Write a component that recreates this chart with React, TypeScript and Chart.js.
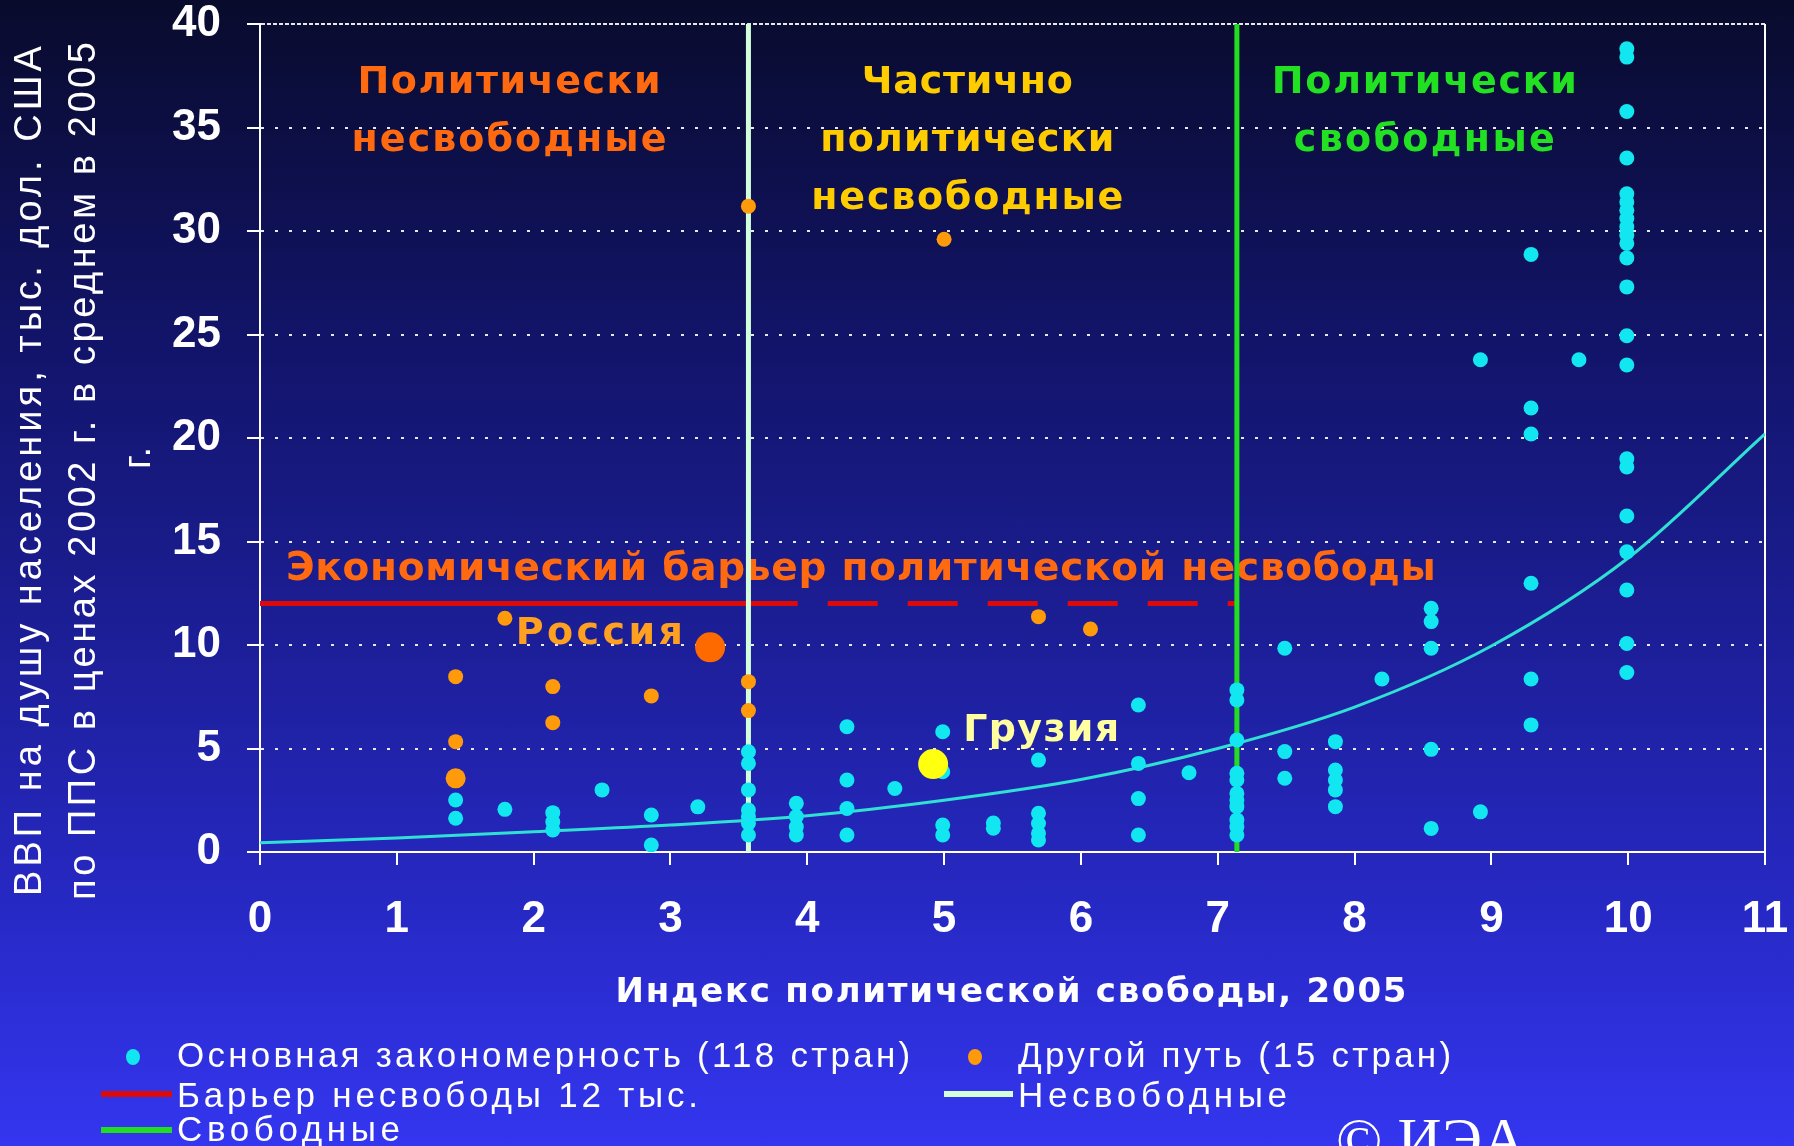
import React, { useEffect, useRef } from 'react';
import { Chart, registerables } from 'chart.js';

Chart.register(...registerables);

// ---------------- DATA ----------------
// Основная закономерность (118 стран): [индекс свободы, ВВП на душу]
const mainPoints: [number, number][] = [
  [1.43, 2.51], [1.43, 1.63],
  [1.79, 2.06],
  [2.14, 1.9], [2.14, 1.46], [2.14, 1.06],
  [2.5, 3.0],
  [2.86, 1.79], [2.86, 0.34],
  [3.2, 2.18],
  [3.57, 4.84], [3.57, 4.28], [3.57, 3.0], [3.57, 2.03], [3.57, 1.7], [3.57, 1.39], [3.57, 0.82],
  [3.92, 2.35], [3.92, 1.71], [3.92, 1.22], [3.92, 0.82],
  [4.29, 6.05], [4.29, 3.48], [4.29, 2.1], [4.29, 0.82],
  [4.64, 3.07],
  [4.99, 5.81], [4.99, 3.88], [4.99, 1.3], [4.99, 0.82],
  [5.36, 1.4], [5.36, 1.15],
  [5.69, 4.44], [5.69, 1.87], [5.69, 1.38], [5.69, 0.9], [5.69, 0.58],
  [6.42, 7.1], [6.42, 4.28], [6.42, 2.58], [6.42, 0.82],
  [6.79, 3.83],
  [7.14, 7.83], [7.14, 7.34], [7.14, 5.41], [7.14, 3.8], [7.14, 3.48], [7.14, 2.83], [7.14, 2.51],
  [7.14, 2.19], [7.14, 1.55], [7.14, 1.22], [7.14, 0.82],
  [7.49, 9.84], [7.49, 4.85], [7.49, 3.56],
  [7.86, 5.33], [7.86, 3.96], [7.86, 3.48], [7.86, 3.0], [7.86, 2.19],
  [8.2, 8.36],
  [8.56, 11.77], [8.56, 11.13], [8.56, 9.84], [8.56, 4.96], [8.56, 1.14],
  [8.92, 23.78], [8.92, 1.94],
  [9.29, 28.87], [9.29, 21.45], [9.29, 20.19], [9.29, 12.98], [9.29, 8.36], [9.29, 6.14],
  [9.64, 23.78],
  [9.99, 38.8], [9.99, 38.4], [9.99, 35.77], [9.99, 33.53], [9.99, 31.8], [9.99, 31.4], [9.99, 31.0],
  [9.99, 30.6], [9.99, 30.2], [9.99, 29.8], [9.99, 29.4], [9.99, 28.7], [9.99, 27.3], [9.99, 24.94],
  [9.99, 23.53], [9.99, 19.0], [9.99, 18.6], [9.99, 16.23], [9.99, 14.5], [9.99, 12.66], [9.99, 10.07],
  [9.99, 8.67],
];

// Другой путь (15 стран)
const otherPoints: [number, number][] = [
  [1.43, 8.47], [1.43, 5.33], [1.79, 11.29], [2.14, 7.99], [2.14, 6.25], [2.86, 7.54],
  [3.57, 8.23], [3.57, 6.83], [3.57, 31.2], [5.0, 29.6], [5.69, 11.37], [6.07, 10.77],
];
const otherLargePoints: [number, number][] = [[1.43, 3.56]];
const russiaPoint: [number, number][] = [[3.29, 9.89]];
const georgiaPoint: [number, number][] = [[4.92, 4.25]];

// Кривая несвободных
const curveX = [0, 1, 2, 3, 4, 5, 6, 7, 8, 9, 10, 11];
const curveY = [0.45, 0.68, 0.98, 1.3, 1.75, 2.5, 3.5, 5.0, 7.0, 9.95, 14.2, 20.2];

const unfreeBorderX = 3.57;
const freeBorderX = 7.14;
const barrierValue = 12;
const barrierX = [0, 3.93, 7.14];

const xRange = [0, 11];
const yRange = [0, 40];

// Texts
const regionTitleLines = [
  ['Политически', 'несвободные'],
  ['Частично', 'политически', 'несвободные'],
  ['Политически', 'свободные'],
];
const barrierTitle = 'Экономический барьер политической несвободы';
const russiaLabel = 'Россия';
const georgiaLabel = 'Грузия';
const xTitle = 'Индекс политической свободы, 2005';
const yTitleLines = ['ВВП на душу населения, тыс. дол. США', 'по ППС в ценах 2002 г. в среднем в 2005', 'г.'];
const legendMain = 'Основная закономерность (118 стран)';
const legendOther = 'Другой путь (15 стран)';
const legendBarrier = 'Барьер несвободы 12 тыс.';
const legendUnfree = 'Несвободные';
const legendFree = 'Свободные';
const copyright = '© ИЭА';

// ---------------- STYLE ----------------
const CYAN = '#12E6F0';
const ORANGE = '#FF9A0A';
const RUSSIA = '#FF6A00';
const GEORGIA = '#FFFF10';
const TURQ = '#30E0D4';
const PALE = '#D4FFDC';
const GREEN = '#22DD22';
const RED = '#DD0A0A';

const SANS = "'DejaVu Sans', 'Noto Sans', sans-serif";
const ARIAL = "'Liberation Sans', Arial, sans-serif";
const NARROW = "'Liberation Sans Narrow', 'Liberation Sans', Arial, sans-serif";

function fitText(
  ctx: CanvasRenderingContext2D,
  text: string,
  x: number,
  y: number,
  width: number,
  font: string,
  color: string,
  align: 'left' | 'center'
) {
  ctx.save();
  ctx.font = font;
  (ctx as any).letterSpacing = '0px';
  const natural = ctx.measureText(text).width;
  const n = Array.from(text).length;
  const ls = n > 1 ? (width - natural) / (n - 1) : 0;
  (ctx as any).letterSpacing = ls.toFixed(2) + 'px';
  ctx.fillStyle = color;
  ctx.textBaseline = 'middle';
  ctx.textAlign = 'left';
  const sx = align === 'center' ? x - width / 2 : x;
  ctx.fillText(text, sx, y);
  ctx.restore();
}

const regionLayout = [
  { x: 1.82, color: '#FF6A10', widths: [303, 315] },
  { x: 5.17, color: '#FFCC00', widths: [211, 294, 312] },
  { x: 8.51, color: '#22E022', widths: [305, 261] },
];
const regionLineValues = [37.12, 34.32, 31.52];

const annotationPlugin = {
  id: 'annotations',
  beforeDatasetsDraw(chart: any) {
    const { ctx } = chart;
    const xs = chart.scales.x;
    const ys = chart.scales.y;
    const bold = `bold 38px ${SANS}`;
    regionTitleLines.forEach((lines, r) => {
      const lay = regionLayout[r];
      lines.forEach((line, i) => {
        fitText(ctx, line, xs.getPixelForValue(lay.x), ys.getPixelForValue(regionLineValues[i]), lay.widths[i], bold, lay.color, 'center');
      });
    });
    fitText(ctx, barrierTitle, xs.getPixelForValue(0.19), ys.getPixelForValue(13.62), 1150, `bold 39px ${SANS}`, '#FF6A10', 'left');
    fitText(ctx, russiaLabel, xs.getPixelForValue(1.87), ys.getPixelForValue(10.52), 167, bold, '#FFA020', 'left');
    fitText(ctx, georgiaLabel, xs.getPixelForValue(5.14), ys.getPixelForValue(5.82), 156, bold, '#FFFFA0', 'left');
  },
  afterDraw(chart: any) {
    const { ctx } = chart;
    // x title
    fitText(ctx, xTitle, 1011, 993, 791, `bold 34px ${SANS}`, '#FFFFFF', 'center');
    // y title (rotated)
    const yCols = [31, 85, 140];
    const yWidths = [850, 858, 22];
    const yCenters = [471, 471, 458];
    yTitleLines.forEach((line, i) => {
      ctx.save();
      ctx.translate(yCols[i], yCenters[i]);
      ctx.rotate(-Math.PI / 2);
      fitText(ctx, line, 0, 0, yWidths[i], `38px ${ARIAL}`, '#FFFFFF', 'center');
      ctx.restore();
    });
    // legend
    const lf = `35px ${ARIAL}`;
    ctx.save();
    ctx.fillStyle = CYAN;
    ctx.beginPath();
    ctx.ellipse(133, 1057, 7, 8, 0, 0, Math.PI * 2);
    ctx.fill();
    ctx.fillStyle = ORANGE;
    ctx.beginPath();
    ctx.ellipse(975, 1057, 7, 8, 0, 0, Math.PI * 2);
    ctx.fill();
    ctx.lineWidth = 6;
    ctx.strokeStyle = RED;
    ctx.beginPath(); ctx.moveTo(101, 1094); ctx.lineTo(172, 1094); ctx.stroke();
    ctx.strokeStyle = PALE;
    ctx.beginPath(); ctx.moveTo(944, 1094); ctx.lineTo(1013, 1094); ctx.stroke();
    ctx.strokeStyle = GREEN;
    ctx.beginPath(); ctx.moveTo(101, 1130); ctx.lineTo(172, 1130); ctx.stroke();
    ctx.restore();
    fitText(ctx, legendMain, 177, 1057, 733, lf, '#FFFFFF', 'left');
    fitText(ctx, legendOther, 1018, 1057, 433, lf, '#FFFFFF', 'left');
    fitText(ctx, legendBarrier, 177, 1097, 521, lf, '#FFFFFF', 'left');
    fitText(ctx, legendUnfree, 1018, 1097, 269, lf, '#FFFFFF', 'left');
    fitText(ctx, legendFree, 177, 1131, 223, lf, '#FFFFFF', 'left');
    // copyright
    ctx.save();
    ctx.font = "61px 'Liberation Serif', 'DejaVu Serif', serif";
    ctx.fillStyle = '#FFFFFF';
    ctx.textBaseline = 'alphabetic';
    ctx.fillText(copyright, 1336, 1160);
    ctx.restore();
  },
};

const toXY = (arr: [number, number][]) => arr.map(([x, y]) => ({ x, y }));

export default function App() {
  const ref = useRef<HTMLCanvasElement | null>(null);
  useEffect(() => {
    const canvas = ref.current;
    if (!canvas) return;
    const tickFont = { family: NARROW, size: 44, weight: 'bold' as const, lineHeight: 1 };
    const chart = new Chart(canvas, {
      type: 'scatter',
      data: {
        datasets: [
          { label: 'Россия', data: toXY(russiaPoint), backgroundColor: RUSSIA, pointRadius: 15, pointBorderWidth: 0, order: 0 } as any,
          { label: 'Грузия', data: toXY(georgiaPoint), backgroundColor: GEORGIA, pointRadius: 15, pointBorderWidth: 0, order: 0 } as any,
          { label: legendMain, data: toXY(mainPoints), backgroundColor: CYAN, pointRadius: 7.5, pointBorderWidth: 0, order: 1 } as any,
          { label: legendOther, data: toXY(otherPoints), backgroundColor: ORANGE, pointRadius: 7.5, pointBorderWidth: 0, order: 1 } as any,
          { label: legendOther + ' *', data: toXY(otherLargePoints), backgroundColor: ORANGE, pointRadius: 10, pointBorderWidth: 0, order: 1 } as any,
          {
            type: 'line', label: 'Кривая несвободных', data: curveX.map((x, i) => ({ x, y: curveY[i] })),
            borderColor: TURQ, borderWidth: 3, pointRadius: 0, cubicInterpolationMode: 'monotone', fill: false, order: 2,
          } as any,
          {
            type: 'line', label: legendUnfree, data: [{ x: unfreeBorderX, y: yRange[0] }, { x: unfreeBorderX, y: yRange[1] }],
            borderColor: PALE, borderWidth: 5, pointRadius: 0, fill: false, order: 3,
          } as any,
          {
            type: 'line', label: legendFree, data: [{ x: freeBorderX, y: yRange[0] }, { x: freeBorderX, y: yRange[1] }],
            borderColor: GREEN, borderWidth: 5, pointRadius: 0, fill: false, order: 3,
          } as any,
          {
            type: 'line', label: legendBarrier, data: barrierX.map((x) => ({ x, y: barrierValue })),
            borderColor: RED, borderWidth: 5, pointRadius: 0, fill: false, order: 3, borderCapStyle: 'butt',
            segment: {
              borderDash: (c: any) => (c.p0DataIndex === 1 ? [50, 30] : undefined),
              borderDashOffset: (c: any) => (c.p0DataIndex === 1 ? 50 : undefined),
            },
          } as any,
        ],
      },
      options: {
        animation: false,
        responsive: false,
        layout: { padding: { top: 24, right: 29, left: 0, bottom: 0 } },
        plugins: { legend: { display: false }, tooltip: { enabled: false }, title: { display: false } },
        scales: {
          x: {
            type: 'linear', min: xRange[0], max: xRange[1],
            ticks: { stepSize: 1, color: '#FFFFFF', font: tickFont, padding: 33 },
            grid: {
              color: (c: any) => (c.tick && c.tick.value === xRange[1] ? '#FFFFFF' : 'rgba(0,0,0,0)'),
              tickColor: '#FFFFFF', tickLength: 13, lineWidth: 2, tickWidth: 2,
            },
            border: { color: '#FFFFFF', width: 2 },
            afterFit: (s: any) => { s.height = 294; s.paddingLeft = 0; s.paddingRight = 0; },
          },
          y: {
            type: 'linear', min: yRange[0], max: yRange[1],
            ticks: { stepSize: 5, color: '#FFFFFF', font: tickFont, padding: 26 },
            grid: { color: 'rgba(255,255,255,0.9)', tickColor: '#FFFFFF', tickLength: 13, lineWidth: 2, tickWidth: 2 },
            border: {
              color: '#FFFFFF', width: 2,
              dash: (c: any) => (c.tick && c.tick.value === yRange[1] ? [4, 2] : [3, 11]),
            },
            afterFit: (s: any) => { s.width = 260; s.paddingTop = 0; s.paddingBottom = 0; },
          },
        },
      } as any,
      plugins: [annotationPlugin],
    });
    return () => chart.destroy();
  }, []);

  return (
    <div
      style={{
        position: 'fixed', left: 0, top: 0, width: 1794, height: 1146, overflow: 'hidden',
        background: 'linear-gradient(to bottom, #090b2c 0%, #12146a 30%, #1c1e96 55%, #2628c2 78%, #3436f0 100%)',
      }}
    >
      <canvas ref={ref} width={1794} height={1146} style={{ display: 'block', width: 1794, height: 1146 }} />
    </div>
  );
}
